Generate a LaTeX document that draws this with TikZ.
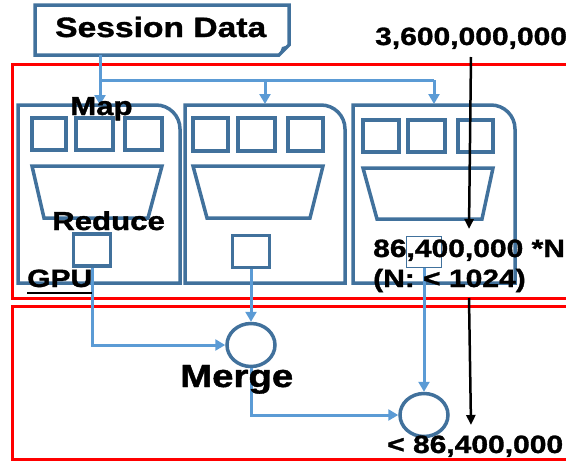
\documentclass[tikz,border=0pt]{standalone}
\usepackage{fontspec}
\usepackage{graphicx}
\setmainfont{Liberation Sans}[BoldFeatures={FakeBold=1.2}]
\usetikzlibrary{arrows.meta,shapes.geometric,calc}
\definecolor{boxblue}{HTML}{41719C}
\definecolor{linkblue}{HTML}{5B9BD5}
\definecolor{frame}{HTML}{FF0000}
\newcommand{\wide}[2]{{\fontsize{#1}{#1}\selectfont\bfseries\scalebox{1.2}[1]{#2}}}
\tikzset{
  outline/.style={draw=boxblue, line width=3.5pt},
  redframe/.style={draw=frame, line width=3pt},
  link/.style={draw=linkblue, line width=3pt, -{Triangle[length=10pt,width=11pt]}},
  feed/.style={draw=linkblue, line width=3pt},
  flow/.style={draw=black, line width=2.5pt, -{Triangle[length=10pt,width=9pt]}},
  lbl/.style={inner sep=0pt, anchor=base west, text=black},
  redsq/.style={draw=boxblue, line width=3.5pt, minimum width=37pt, minimum height=32pt, inner sep=0pt},
  mergeop/.style={ellipse, draw=boxblue, line width=3.5pt, minimum width=48pt, minimum height=43pt, inner sep=0pt}
}
\begin{document}
\begin{tikzpicture}[x=1pt,y=-1pt]
\useasboundingbox (0,0) rectangle (566,464);
\clip (0,0) rectangle (566,464);
% red frames
\draw[redframe] (12,64) rectangle (575,298);
\draw[redframe] (12,306) rectangle (575,459);
% session data box with folded corner
\draw[outline, line join=miter] (35,5) -- (289,5) -- (289,45) -- (279,55) -- (35,55) -- cycle;
\fill[boxblue] (279,55) -- (282,47) -- (289,45) -- cycle;
\coordinate (sd) at (100,55);
% blocks
\draw[outline] (18,283) -- (18,105) -- (156,105) .. controls (169.25,105) and (180,115.75) .. (180,129) -- (180,283) -- cycle;
\draw[outline] (185,283) -- (185,105) -- (321,105) .. controls (334.25,105) and (345,115.75) .. (345,129) -- (345,283) -- cycle;
\draw[outline] (353,283) -- (353,105) -- (491,105) .. controls (504.25,105) and (515,115.75) .. (515,129) -- (515,283) -- cycle;
% map squares
\draw[outline] (32,118) rectangle (66,150);
\draw[outline] (76,118) rectangle (113,150);
\draw[outline] (125,118) rectangle (162,150);
\draw[outline] (193,118) rectangle (228,151);
\draw[outline] (238,118) rectangle (275,151);
\draw[outline] (288,118) rectangle (323,151);
\draw[outline] (363,120) rectangle (399,152);
\draw[outline] (408,120) rectangle (445,152);
\draw[outline] (458,120) rectangle (493,152);
% trapezoids
\draw[outline] (32,166) -- (162,166) -- (148,218) -- (44,218) -- cycle;
\draw[outline] (193,166) -- (323,166) -- (310,218) -- (207,218) -- cycle;
\draw[outline] (363,168) -- (493,168) -- (482,219) -- (377,219) -- cycle;
% reduce squares
\node[redsq] (r1) at (92,250) {};
\node[redsq] (r2) at (251,251.5) {};
\node[redsq, line width=1pt, minimum width=35pt, minimum height=31pt] (r3) at (424,251.5) {};
% merge nodes
\node[mergeop] (m1) at (251,345) {};
\node[mergeop] (m2) at (424,415) {};
% session data distribution
\coordinate (split) at (100,80);
\coordinate (t1) at (100,105);
\coordinate (b2) at (265,80);
\coordinate (t2) at (265,104);
\coordinate (b3) at (434,80);
\coordinate (t3) at (434,104);
\draw[link] (sd) -- (t1);
\draw[feed] (split) -- (b3);
\draw[link] (b2) -- (t2);
\draw[link] (b3) -- (t3);
% reduce to merge
\draw[link] (r1.south) |- (m1.west);
\draw[link] (r2.south) -- (m1.north);
\draw[link] (m1.south) |- (m2.west);
\draw[link] (r3.south) -- (m2.north);
% black flow arrows
\coordinate (f1s) at (471,57);
\coordinate (f1e) at (469,229);
\coordinate (f2s) at (469,298);
\coordinate (f2e) at (471,425);
\draw[flow] (f1s) -- (f1e);
\draw[flow] (f2s) -- (f2e);
% labels
\node[lbl] (tsd) at (55,37) {\wide{28}{Session Data}};
\node[lbl] (tbig) at (375,45) {\wide{25}{3,600,000,000}};
\node[lbl] (tmap) at (70,115) {\wide{26}{Map}};
\node[lbl] (tred) at (52,230) {\wide{26}{Reduce}};
\node[lbl] (tgpu) at (27,287) {\wide{25}{GPU}};
\draw[black, line width=1.8pt] ($(tgpu.base west)+(0,6)$) -- ($(tgpu.base east)+(0,6)$);
\node[lbl] (tn) at (373,257) {\wide{25}{86,400,000 *N}};
\node[lbl] (tnn) at (373,287) {\wide{25}{(N: < 1024)}};
\node[lbl] (tmerge) at (180,387) {\wide{32}{Merge}};
\node[lbl] (tout) at (387,453) {\wide{25}{< 86,400,000}};
\end{tikzpicture}
\end{document}
